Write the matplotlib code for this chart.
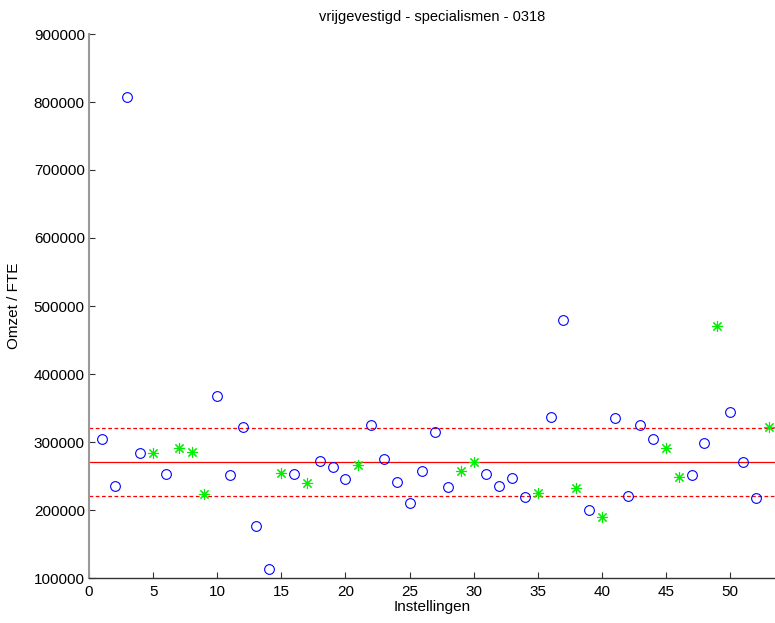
import matplotlib.pyplot as plt

# Instellingen (x) and omzet per FTE, split by marker group
circle_x = [1, 2, 3, 4, 6, 10, 11, 12, 13, 14, 16, 18, 19, 20, 22, 23, 24, 25, 26,
            27, 28, 31, 32, 33, 34, 36, 37, 39, 41, 42, 43, 44, 47, 48, 50, 51, 52]
circle_y = [305000, 236000, 808000, 284000, 253000, 367500, 251000, 321500, 176500,
            113500, 253000, 272500, 263000, 246000, 325000, 274500, 240500, 211000,
            257000, 314000, 233500, 253000, 236000, 246500, 219500, 337500, 479000,
            199500, 335000, 221000, 324500, 305000, 251000, 298000, 344000, 270500,
            217500]
star_x = [5, 7, 8, 9, 15, 17, 21, 29, 30, 35, 38, 40, 45, 46, 49, 53]
star_y = [284000, 291500, 285500, 223000, 254000, 239000, 266000, 258000, 270000,
          224500, 232000, 189500, 290500, 248500, 470500, 322000]

mean_value = 270000
band = 50000
title = "vrijgevestigd - specialismen - 0318"

plt.rcParams['font.family'] = ['Liberation Sans', 'DejaVu Sans']

fig = plt.figure(figsize=(7.75, 6.23), dpi=100)
ax = fig.add_axes([89 / 775, 45 / 623, 686 / 775, 544 / 623])

ax.axhline(mean_value, color='#ff0000', lw=0.9)
ax.axhline(mean_value + band, color='#ff0000', lw=0.9, ls=(0, (3, 2)))
ax.axhline(mean_value - band, color='#ff0000', lw=0.9, ls=(0, (3, 2)))

ax.plot(circle_x, circle_y, 'o', mfc='none', mec='#0000ff', ms=7, mew=0.8)
ax.plot(star_x, star_y, ls='none', marker=(8, 2, 0), mec='#00ee00', ms=8, mew=0.8)

ax.set_xlim(0, 53.5)
ax.set_ylim(100000, 900000)
ax.set_xticks(range(0, 51, 5))
ax.set_yticks(range(100000, 900001, 100000))

ax.spines['top'].set_visible(False)
ax.spines['right'].set_visible(False)
ax.spines['left'].set_color('#999999')
ax.spines['left'].set_linewidth(1.5)
ax.spines['bottom'].set_color('#333333')
ax.spines['bottom'].set_linewidth(1.0)
ax.tick_params(direction='in', length=4.5, width=0.8, colors='#333333',
               labelcolor='black', labelsize=11, pad=3)
ax.tick_params(axis='x', pad=5)

ax.set_title(title, fontsize=10.5, pad=9)
ax.set_xlabel("Instellingen", fontsize=11, labelpad=1)
ax.set_ylabel("Omzet / FTE", fontsize=11, labelpad=9)

fig.savefig("out.png", dpi=100)
